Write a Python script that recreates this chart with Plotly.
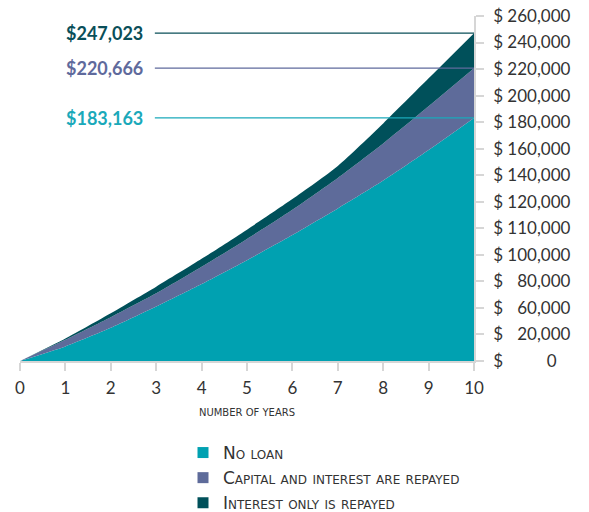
import plotly.graph_objects as go

years = [0, 1, 2, 3, 4, 5, 6, 7, 8, 9, 10]
no_loan = [0, 11000, 25000, 41000, 58000, 76000, 95000, 115000, 136000, 159000, 183163]
capital_interest = [0, 16000, 33000, 51000, 71000, 92000, 114000, 138000, 164000, 192000, 220666]
interest_only = [0, 17000, 36000, 56000, 77000, 99000, 122000, 147000, 179000, 213000, 247023]

series_names = ["No loan", "Capital and interest are repayed", "Interest only is repayed"]
series_vals = [no_loan, capital_interest, interest_only]
fill_colors = ["#00a1b1", "#5e6b9a", "#00505a"]
label_colors = ["#1aa9ba", "#5f6a9c", "#0a4f59"]
end_labels = ["$183,163", "$220,666", "$247,023"]

y_tick_vals = [0, 20000, 40000, 60000, 80000, 100000, 120000, 140000, 160000,
               180000, 200000, 220000, 240000, 260000]
F = "\u2007"
y_tick_text = ["$" + F * 4 + " 0", "$" + F + " 20,000", "$" + F + " 60,000", "$" + F + " 80,000",
               "$ 100,000", "$ 110,000", "$ 120,000", "$ 140,000", "$ 160,000",
               "$ 180,000", "$ 200,000", "$ 220,000", "$ 240,000", "$ 260,000"]
x_tick_vals = list(range(0, 11))

fig = go.Figure()
for i, (name, vals) in enumerate(zip(series_names, series_vals)):
    fig.add_trace(go.Scatter(
        x=years, y=vals, mode="lines",
        line=dict(width=0, color=fill_colors[i], shape="spline", smoothing=0.6),
        fill="tozeroy" if i == 0 else "tonexty", fillcolor=fill_colors[i],
        showlegend=False, hoverinfo="skip"))

for i, name in enumerate(series_names):
    fig.add_trace(go.Scatter(
        x=[None], y=[None], mode="markers", name=name,
        marker=dict(symbol="square", size=11, color=fill_colors[i])))

for i, vals in enumerate(series_vals):
    v = vals[-1]
    fig.add_shape(type="line", xref="paper", yref="y", x0=0.297, x1=1.0, y0=v, y1=v,
                  line=dict(color=label_colors[i], width=1.2), layer="above")
    fig.add_annotation(xref="paper", yref="y", x=0.275, y=v, text=end_labels[i],
                       showarrow=False, xanchor="right", yanchor="middle",
                       font=dict(family="Lato", size=18, color=label_colors[i], weight="bold"))

fig.update_layout(
    width=589, height=512,
    margin=dict(l=20, r=115, t=16, b=151, autoexpand=False),
    paper_bgcolor="white", plot_bgcolor="white",
    font=dict(family="Lato", color="#333333"),
    showlegend=True,
    legend=dict(x=(183 - 20) / 454, y=(361 - 435) / 345,
                xanchor="left", yanchor="top", orientation="v", traceorder="normal",
                font=dict(family="DejaVu Sans", size=17, color="#333333", variant="small-caps"),
                itemwidth=30, tracegroupgap=0, bgcolor="rgba(0,0,0,0)"),
    xaxis=dict(range=[0, 10], tickvals=x_tick_vals, showgrid=False, zeroline=False,
               automargin=False,
               showline=True, linecolor="#d6d6d6", linewidth=1.5,
               ticks="outside", ticklen=8, tickcolor="#d6d6d6", tickwidth=1.5,
               ticklabelstandoff=3,
               tickfont=dict(family="Lato", size=17, color="#333333"),
               title=dict(text="NUMBER OF YEARS", standoff=12,
                          font=dict(family="DejaVu Sans", size=10, color="#333333"))),
    yaxis=dict(range=[0, 260000], side="right", tickvals=y_tick_vals, ticktext=y_tick_text,
               automargin=False,
               showgrid=False, zeroline=False, showline=True, linecolor="#d6d6d6", linewidth=1.5,
               ticks="outside", ticklen=8, tickcolor="#d6d6d6", tickwidth=1.5,
               ticklabelstandoff=6,
               tickfont=dict(family="Lato", size=17, color="#333333")),
)

fig.write_html("out.html")
